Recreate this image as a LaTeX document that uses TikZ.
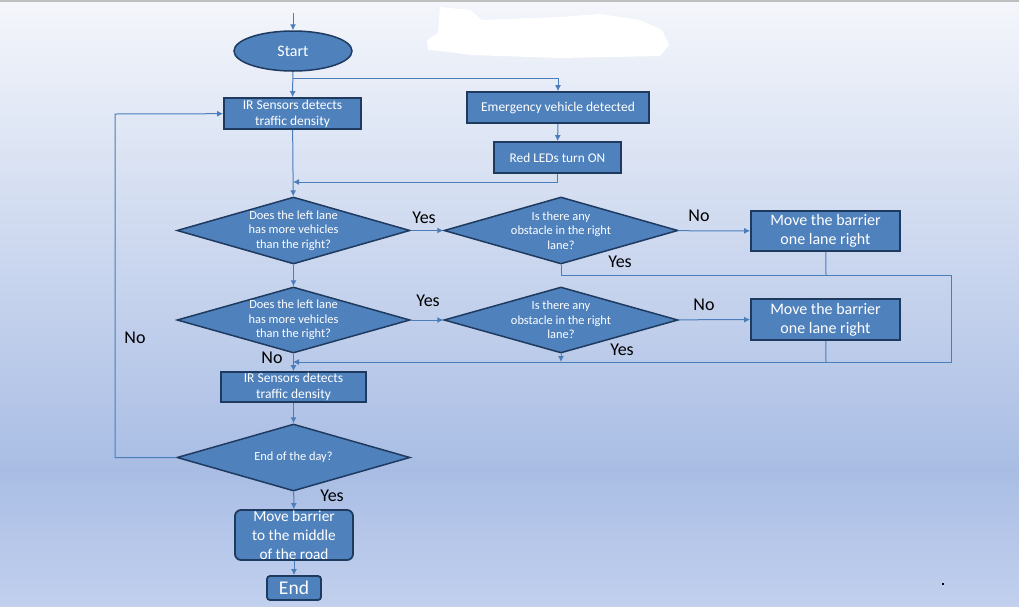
\documentclass[tikz,border=0pt]{standalone}
\usepackage{fontspec}
\setmainfont{Carlito}
\usetikzlibrary{shapes.geometric,arrows.meta}
\definecolor{boxblue}{HTML}{4F81BD}
\definecolor{boxedge}{HTML}{1F3A5F}
\definecolor{flowblue}{HTML}{4A7EBB}
\definecolor{bgtop}{HTML}{F4F6FB}
\definecolor{bgmid}{HTML}{A9BDE4}
\definecolor{bgbot}{HTML}{C2D0EE}
\begin{document}
\begin{tikzpicture}[x=1pt,y=-1pt,
  box/.style={rectangle, draw=boxedge, line width=1.8pt, fill=boxblue, text=white, align=center, inner sep=0pt},
  term/.style={ellipse, draw=boxedge, line width=1.5pt, fill=boxblue, text=white, inner sep=0pt},
  decis/.style={diamond, draw=boxedge, line width=1.5pt, fill=boxblue, inner sep=0pt, minimum width=233pt, minimum height=67pt},
  dtext/.style={text=white, align=center, font=\fontsize{12.4}{14.5}\selectfont},
  flow/.style={draw=flowblue, line width=1pt, -{Latex[length=6pt,width=6pt]}},
  wire/.style={draw=flowblue, line width=1pt},
  ans/.style={font=\fontsize{18}{18}\selectfont, text=black}]
\useasboundingbox (0,0) rectangle (1019,606);
\shade[top color=bgtop, bottom color=bgmid] (0,0) rectangle (1019,470);
\shade[top color=bgmid, bottom color=bgbot] (0,470) rectangle (1019,606);
\fill[black!25] (0,0) rectangle (1019,2);
\fill[white] (440,7) -- (470,10) -- (482,20) -- (560,17) -- (600,14) -- (640,20) -- (662,30) -- (669,45) -- (660,56) -- (560,58) -- (470,55) -- (450,52) -- (428,50) -- (427,40) -- (438,33) -- cycle;
\fill[black] (941.5,582.5) rectangle (943.5,584.5);

\coordinate (top) at (293,13);
\node[term, minimum width=118pt, minimum height=40pt, font=\fontsize{16}{19}\selectfont] (start) at (293,51) {Start};
\node[box, minimum width=137pt, minimum height=31pt, font=\fontsize{13.5}{16}\selectfont] (ir1) at (292.5,113.5) {IR Sensors detects\\traffic density};
\node[box, minimum width=182pt, minimum height=31pt, font=\fontsize{13.5}{16}\selectfont] (emer) at (558,107.5) {Emergency vehicle detected};
\node[box, minimum width=127pt, minimum height=31pt, font=\fontsize{13.3}{16}\selectfont] (red) at (557.5,157.5) {Red LEDs turn ON};
\node[decis, label={[dtext]center:{Does the left lane\\has more vehicles\\than the right?}}] (d1) at (293.5,230.5) {};
\node[decis, minimum width=234pt, label={[dtext]center:{Is there any\\obstacle in the right\\lane?}}] (d2) at (561,230.5) {};
\node[box, minimum width=149pt, minimum height=40pt, font=\fontsize{16}{19}\selectfont] (mv1) at (825.5,231) {Move the barrier\\one lane right};
\node[decis, minimum height=66pt, label={[dtext]center:{Does the left lane\\has more vehicles\\than the right?}}] (d3) at (293.5,320) {};
\node[decis, minimum width=234pt, minimum height=66pt, label={[dtext]center:{Is there any\\obstacle in the right\\lane?}}] (d4) at (561,320) {};
\node[box, minimum width=149pt, minimum height=41pt, font=\fontsize{16}{19}\selectfont] (mv2) at (825.5,319.5) {Move the barrier\\one lane right};
\node[box, minimum width=145pt, minimum height=30pt, font=\fontsize{13.5}{16}\selectfont] (ir2) at (293.5,387) {IR Sensors detects\\traffic density};
\node[decis, label={[dtext]center:{End of the day?}}] (d5) at (293.5,457.5) {};
\node[box, rounded corners=6pt, minimum width=118pt, minimum height=50pt, font=\fontsize{15.3}{19}\selectfont] (mvmid) at (294,535) {Move barrier\\to the middle\\of the road};
\node[box, rounded corners=3pt, minimum width=54pt, minimum height=24pt, font=\fontsize{19.5}{20}\selectfont] (endn) at (294,588) {End};

\coordinate (br) at (293,78);
\coordinate (jn1) at (293,182);
\coordinate (cr1) at (951,275);
\coordinate (jn2) at (293,362);
\coordinate (j1) at (826,275);
\coordinate (j2) at (826,362);
\coordinate (j4) at (561,362);
\coordinate (lp) at (115,114);

\draw[flow] (top) -- (start);
\draw[flow] (start) -- (ir1);
\draw[flow] (br) -| (emer);
\draw[flow] (emer) -- (red);
\draw[flow] (red) |- (jn1);
\draw[flow] (ir1) -- (d1);
\draw[flow] (d1) -- (d2);
\draw[flow] (d2) -- (mv1);
\draw[flow] (d2.south) |- (cr1) |- (jn2);
\draw[wire] (mv1) -- (j1);
\draw[flow] (d1) -- (d3);
\draw[flow] (d3) -- (d4);
\draw[flow] (d4) -- (mv2);
\draw[flow] (d4) -- (j4);
\draw[wire] (mv2) -- (j2);
\draw[flow] (d3) -- (ir2);
\draw[flow] (ir2) -- (d5);
\draw[flow] (d5.west) -| (lp) -- (ir1);
\draw[flow] (d5) -- (mvmid);
\draw[flow] (mvmid) -- (endn);

\node[ans] (yes1) at (424,218) {Yes};
\node[ans] (no1) at (699,216) {No};
\node[ans] (yes2) at (620,262) {Yes};
\node[ans] (yes3) at (428,301) {Yes};
\node[ans] (no2) at (704,305) {No};
\node[ans] (yes4) at (622,350) {Yes};
\node[ans] (no3) at (272,358) {No};
\node[ans] (no4) at (135,338) {No};
\node[ans] (yes5) at (332,496) {Yes};
\end{tikzpicture}
\end{document}
